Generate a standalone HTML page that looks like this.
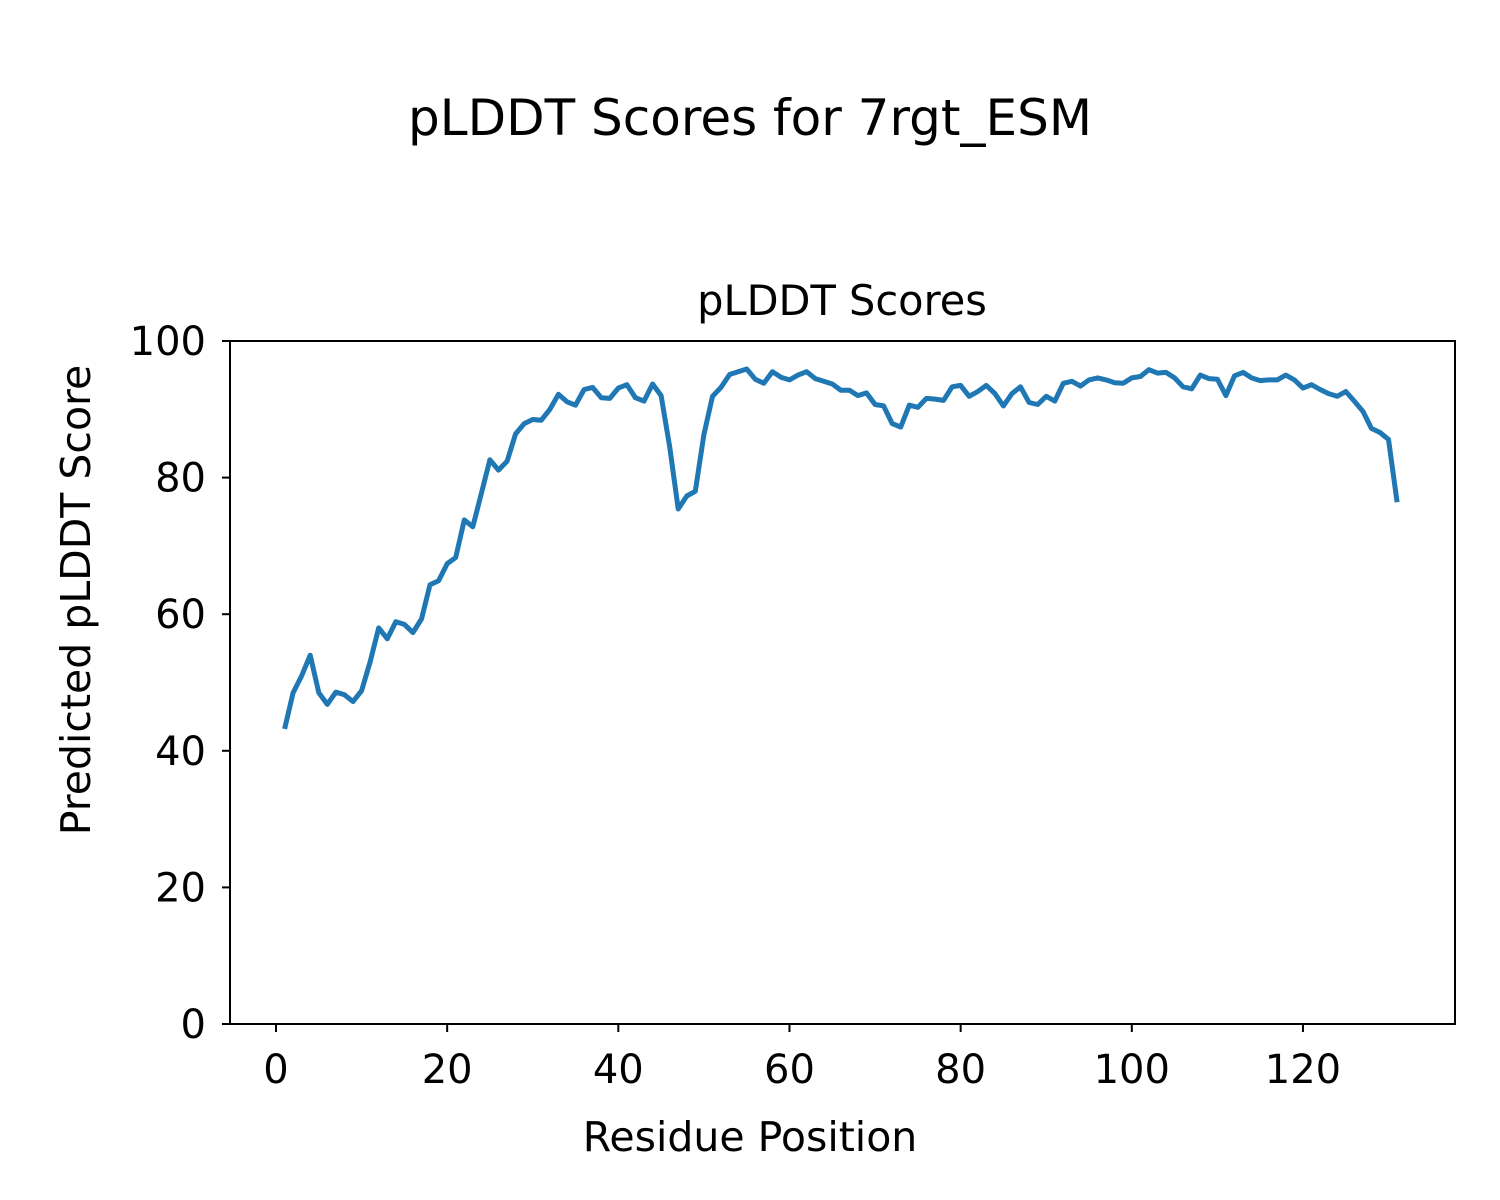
<!DOCTYPE html>
<html><head><meta charset="utf-8"><style>html,body{margin:0;padding:0;background:#fff}svg{display:block}text{font-family:"DejaVu Sans","Liberation Sans",sans-serif;fill:#000}</style></head>
<body>
<svg id="s" width="1500" height="1200" viewBox="0 0 1500 1200" xmlns="http://www.w3.org/2000/svg">
<rect width="1500" height="1200" fill="#fff"/>
<text x="750" y="135" font-size="50" text-anchor="middle">pLDDT Scores for 7rgt_ESM</text>
<text x="842" y="315" font-size="41.5" text-anchor="middle">pLDDT Scores</text>
<g id="ticks" stroke="#000" stroke-width="2"></g>
<g id="labels" font-size="40"></g>
<polyline id="line" fill="none" stroke="#1f77b4" stroke-width="5" stroke-linejoin="round" stroke-linecap="butt"/>
<rect x="230" y="341" width="1225" height="683" fill="none" stroke="#000" stroke-width="2"/>
<text x="750" y="1151" font-size="41" text-anchor="middle">Residue Position</text>
<text transform="translate(90,600) rotate(-90)" font-size="41" text-anchor="middle">Predicted pLDDT Score</text>
</svg>
<script>
var v=[43.2,48.5,51,54,48.5,46.8,48.6,48.2,47.2,48.8,53,58,56.4,58.9,58.5,57.3,59.3,64.3,64.9,67.4,68.3,73.8,72.8,77.7,82.6,81.1,82.4,86.4,87.9,88.5,88.4,90,92.2,91.1,90.6,92.9,93.2,91.7,91.6,93.1,93.6,91.7,91.2,93.7,92,84.5,75.4,77.3,78,86.3,91.9,93.2,95.1,95.5,95.9,94.4,93.8,95.5,94.7,94.3,95,95.5,94.5,94.1,93.7,92.8,92.8,92,92.4,90.7,90.5,87.9,87.4,90.6,90.3,91.6,91.5,91.3,93.3,93.5,91.9,92.6,93.5,92.3,90.5,92.3,93.3,91,90.7,91.9,91.2,93.8,94.1,93.4,94.3,94.6,94.3,93.9,93.8,94.6,94.8,95.8,95.3,95.4,94.6,93.3,93,95,94.5,94.4,92,94.9,95.4,94.6,94.2,94.3,94.3,95,94.3,93.1,93.6,92.9,92.3,91.9,92.6,91.2,89.7,87.2,86.6,85.6,76.4];
function X(i){return 276+i*8.558}function Y(y){return 1024-y*6.83}
var p=v.map(function(y,i){return X(i+1).toFixed(1)+","+Y(y).toFixed(1)}).join(" ");
document.getElementById("line").setAttribute("points",p);
var t="",l="";
for(var k=0;k<=120;k+=20){var x=X(k);t+='<line x1="'+x+'" y1="1024" x2="'+x+'" y2="1032"/>';l+='<text x="'+x+'" y="1083" text-anchor="middle">'+k+'</text>';}
for(var k=0;k<=100;k+=20){var y=Y(k);t+='<line x1="222" y1="'+y+'" x2="230" y2="'+y+'"/>';l+='<text x="206" y="'+(y+14)+'" text-anchor="end">'+k+'</text>';}
document.getElementById("ticks").innerHTML=t;document.getElementById("labels").innerHTML=l;
</script>
</body></html>
